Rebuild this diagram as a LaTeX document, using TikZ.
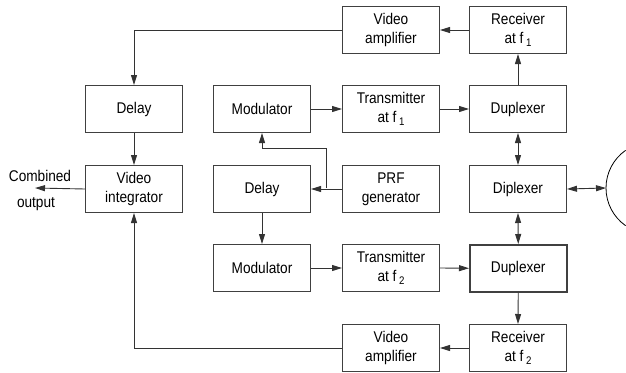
\documentclass[tikz,border=0pt]{standalone}
\usepackage{fontspec}
\setmainfont{Liberation Sans}[FakeStretch=0.88]
\usetikzlibrary{arrows.meta}
\begin{document}
\begin{tikzpicture}[x=1pt,y=-1pt,
  blk/.style={draw=black!75, line width=1pt, minimum width=97pt, minimum height=47pt,
    inner sep=0pt, align=center, font=\fontsize{15.5}{19}\selectfont, anchor=north west},
  conn/.style={draw=black!80, line width=0.9pt},
  arr/.style={conn, -{Triangle[length=10pt,width=6pt]}},
  darr/.style={conn, {Triangle[length=10pt,width=6pt]}-{Triangle[length=10pt,width=6pt]}},
  lbl/.style={font=\fontsize{15.5}{19}\selectfont, inner sep=0pt}]
\newcommand{\sbs}[1]{\,{\fontsize{11}{11}\selectfont\raisebox{-3.5pt}{#1}}}
\useasboundingbox (0,0) rectangle (626,372);
% boxes
\node[blk] (va1) at (342,6) {Video\\amplifier};
\node[blk] (rx1) at (469,6) {Receiver\\at f\sbs{1}};
\node[blk] (dl1) at (85,85) {Delay};
\node[blk] (md1) at (213,85) {Modulator};
\node[blk] (tx1) at (342,85) {Transmitter\\at f\sbs{1}};
\node[blk] (dp1) at (469,85) {Duplexer};
\node[blk] (vi) at (85,165) {Video\\integrator};
\node[blk] (dl2) at (213,165) {Delay};
\node[blk] (prf) at (342,165) {PRF\\generator};
\node[blk] (dip) at (469,165) {Diplexer};
\node[blk] (md2) at (213,244) {Modulator};
\node[blk] (tx2) at (342,244) {Transmitter\\at f\sbs{2}};
\node[blk, line width=1.5pt] (dp2) at (469,244) {Duplexer};
\node[blk] (va2) at (342,324) {Video\\amplifier};
\node[blk] (rx2) at (469,324) {Receiver\\at f\sbs{2}};
% labels
\node[lbl] (comb) at (40,176) {Combined};
\node[lbl] (outp) at (36,204) {output};
\coordinate (outend) at (35,188);
% antenna
\coordinate (ant) at (606,188);
\draw[black, line width=0.8pt] (ant) arc[start angle=180, end angle=125, radius=46] ;
\draw[black, line width=0.8pt] (ant) arc[start angle=180, end angle=235, radius=46] ;
% connectors
\draw[arr] (rx1.west) -- (va1.east);
\draw[arr] (va1.west) -| (dl1.north);
\draw[arr] (dl1.south) -- (vi.north);
\draw[arr] (vi.west) -- (outend);
\draw[arr] (md1.east) -- (tx1.west);
\draw[arr] (tx1.east) -- (dp1.west);
\draw[arr] (dp1.north) -- (rx1.south);
\draw[darr] (dp1.south) -- (dip.north);
\draw[darr] (dip.east) -- (ant);
\draw[arr] (prf.west) -- (dl2.east);
\coordinate (br) at (326,188);
\draw[arr] (br) -- (326,148) -| (md1.south);
\draw[arr] (dl2.south) -- (md2.north);
\draw[arr] (md2.east) -- (tx2.west);
\draw[arr] (tx2.east) -- (dp2.west);
\draw[darr] (dip.south) -- (dp2.north);
\draw[arr] (dp2.south) -- (rx2.north);
\draw[arr] (rx2.west) -- (va2.east);
\draw[arr] (va2.west) -| (vi.south);
\end{tikzpicture}
\end{document}
